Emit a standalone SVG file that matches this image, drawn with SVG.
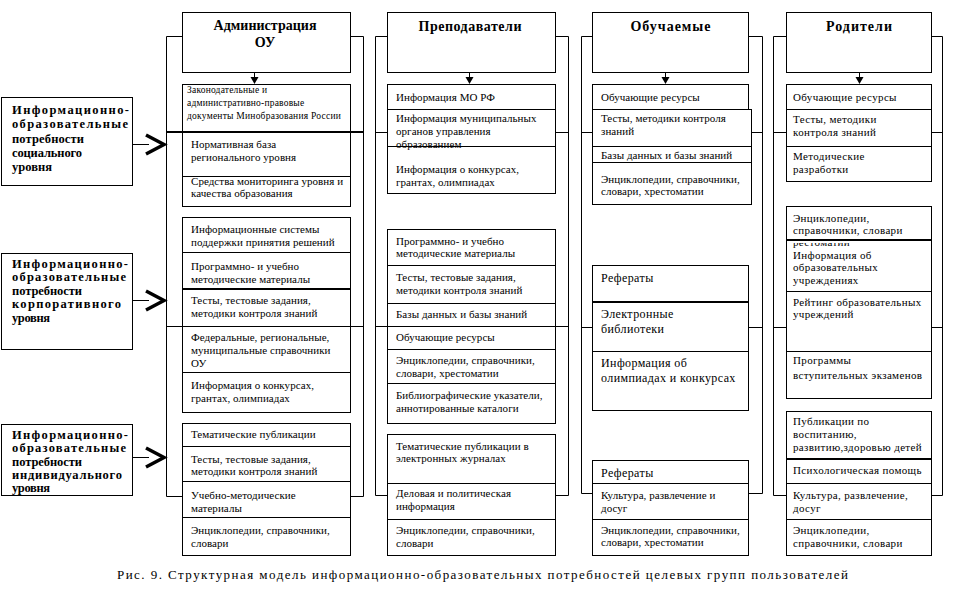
<svg xmlns="http://www.w3.org/2000/svg" width="967" height="589" viewBox="0 0 967 589" font-family="Liberation Serif, Times New Roman, serif">
<style>
.box{fill:#fff;stroke:#000;stroke-width:1}
.ln{stroke:#000;stroke-width:1;fill:none}
.th{stroke:#000;stroke-width:2;fill:none}
.chev{stroke:#000;stroke-width:3.5;fill:none;stroke-linejoin:miter}
.t,.s,.m,.u,.h,.lb,.cap{font-family:"Liberation Serif",serif;fill:#000}
.t{font-size:11px;letter-spacing:0.05px}
.u{font-size:11px;letter-spacing:0.35px}
.s{font-size:9.5px;letter-spacing:0.2px}
.m{font-size:12px;letter-spacing:0.4px}
.h{font-size:14px;font-weight:bold;text-anchor:middle}
.lb{font-size:12.5px;font-weight:bold}
.cap{font-size:13px}
</style>
<defs>
<polygon id="ah" points="-4,0 4,0 0,7"/>
</defs>
<rect width="967" height="589" fill="#fff"/>

<g id="connectors">
  <path class="ln" d="M166.5,36.5H182.5M350.5,36.5H363.5M166.5,36.5V496.5H182.5M363.5,36.5V496.5H350.5M166.5,326.5H182.5M350.5,326.5H363.5"/>
  <path class="th" d="M166.5,132H182.5M350.5,132H363.5"/>
  <path class="ln" d="M375.5,36.5H387.5M555.5,36.5H568.5M375.5,36.5V495.5H387.5M568.5,36.5V495.5H555.5M375.5,132.5H387.5M555.5,132.5H568.5M375.5,326.5H387.5M555.5,326.5H568.5"/>
  <path class="ln" d="M581.5,36.5H592.5M748.5,36.5H762.5M581.5,36.5V493.5H592.5M762.5,36.5V493.5H748.5M581.5,132.5H592.5M751.5,132.5H762.5M581.5,327.5H592.5M748.5,327.5H762.5"/>
  <path class="ln" d="M773.5,36.5H786.5M931.5,36.5H942.5M773.5,36.5V495.5H786.5M942.5,36.5V495.5H931.5M773.5,132.5H786.5M931.5,132.5H942.5M773.5,327.5H786.5M931.5,327.5H942.5"/>
  <path class="ln" d="M254.5,72V78M469.5,72V78M665.5,72V78M859.5,72V78"/>
  <use href="#ah" x="254.5" y="77"/>
  <use href="#ah" x="469.5" y="77"/>
  <use href="#ah" x="665.5" y="77"/>
  <use href="#ah" x="859.5" y="77"/>
  <path class="ln" d="M132,144.5H149M133,300.5H149M133,457.5H149"/>
  <path class="chev" d="M146,135L164,144.5L146,154"/>
  <path class="chev" d="M146,291L164,300.5L146,310"/>
  <path class="chev" d="M146,448L164,457.5L146,467"/>
</g>

<g id="need-social">
  <rect class="box" x="1.5" y="97.5" width="131" height="88"/>
  <text class="lb" x="12" y="114" textLength="117" lengthAdjust="spacing">Информационно-</text>
  <text class="lb" x="12" y="128" textLength="116" lengthAdjust="spacing">образовательные</text>
  <text class="lb" x="12" y="143" textLength="72" lengthAdjust="spacing">потребности</text>
  <text class="lb" x="12" y="157" textLength="70" lengthAdjust="spacing">социального</text>
  <text class="lb" x="12" y="171" textLength="40" lengthAdjust="spacing">уровня</text>
</g>
<g id="need-corporate">
  <rect class="box" x="1.5" y="253.5" width="131" height="96"/>
  <text class="lb" x="12" y="268" textLength="116" lengthAdjust="spacing">Информационно-</text>
  <text class="lb" x="12" y="281" textLength="114" lengthAdjust="spacing">образовательные</text>
  <text class="lb" x="12" y="295" textLength="70" lengthAdjust="spacing">потребности</text>
  <text class="lb" x="12" y="308" textLength="109" lengthAdjust="spacing">корпоративного</text>
  <text class="lb" x="12" y="322" textLength="38" lengthAdjust="spacing">уровня</text>
</g>
<g id="need-individual">
  <rect class="box" x="1.5" y="424.5" width="131" height="71"/>
  <text class="lb" x="12" y="439" textLength="116" lengthAdjust="spacing">Информационно-</text>
  <text class="lb" x="12" y="452" textLength="114" lengthAdjust="spacing">образовательные</text>
  <text class="lb" x="12" y="466" textLength="70" lengthAdjust="spacing">потребности</text>
  <text class="lb" x="12" y="479" textLength="110" lengthAdjust="spacing">индивидуального</text>
  <text class="lb" x="12" y="492" textLength="38" lengthAdjust="spacing">уровня</text>
</g>

<g id="admin-head">
  <rect class="box" x="182.5" y="12.5" width="168" height="60"/>
  <text class="h" x="265" y="30" textLength="103" lengthAdjust="spacing">Администрация</text>
  <text class="h" x="265" y="47">ОУ</text>
</g>
<g id="admin-g1">
  <rect class="box" x="182.5" y="84.5" width="168" height="122"/>
  <path class="th" d="M182.5,132H350.5"/>
  <path class="ln" d="M182.5,176.5H350.5"/>
  <text class="s" x="187" y="93">Законодательные и</text>
  <text class="s" x="187" y="106">административно-правовые</text>
  <text class="s" x="187" y="119" textLength="154" lengthAdjust="spacing">документы Минобразования России</text>
  <text class="t" x="191" y="148">Нормативная база</text>
  <text class="t" x="191" y="161">регионального уровня</text>
  <text class="t" x="191" y="185">Средства мониторинга уровня и</text>
  <text class="t" x="191" y="197">качества образования</text>
</g>
<g id="admin-g2">
  <rect class="box" x="182.5" y="217.5" width="168" height="195"/>
  <path class="ln" d="M182.5,252.5H350.5M166.5,326.5H363.5M182.5,372.5H350.5"/>
  <path class="th" d="M182.5,289H350.5"/>
  <text class="t" x="191" y="233">Информационные системы</text>
  <text class="t" x="191" y="246">поддержки принятия решений</text>
  <text class="t" x="191" y="270">Программно- и учебно</text>
  <text class="t" x="191" y="283">методические материалы</text>
  <text class="t" x="191" y="304">Тесты, тестовые задания,</text>
  <text class="t" x="191" y="317">методики контроля знаний</text>
  <text class="t" x="191" y="341">Федеральные, региональные,</text>
  <text class="t" x="191" y="354">муниципальные справочники</text>
  <text class="t" x="191" y="367">ОУ</text>
  <text class="t" x="191" y="389">Информация о конкурсах,</text>
  <text class="t" x="191" y="402">грантах, олимпиадах</text>
</g>
<g id="admin-g3">
  <rect class="box" x="182.5" y="423.5" width="168" height="132"/>
  <path class="ln" d="M182.5,446.5H350.5M182.5,481.5H350.5M182.5,517.5H350.5"/>
  <text class="t" x="191" y="438">Тематические публикации</text>
  <text class="t" x="191" y="463">Тесты, тестовые задания,</text>
  <text class="t" x="191" y="475">методики контроля знаний</text>
  <text class="t" x="191" y="499">Учебно-методические</text>
  <text class="t" x="191" y="512">материалы</text>
  <text class="t" x="191" y="534">Энциклопедии, справочники,</text>
  <text class="t" x="191" y="547">словари</text>
</g>

<g id="teachers-head">
  <rect class="box" x="387.5" y="12.5" width="168" height="60"/>
  <text class="h" x="470" y="31" textLength="103" lengthAdjust="spacing">Преподаватели</text>
</g>
<g id="teachers-g1">
  <rect class="box" x="387.5" y="84.5" width="168" height="109"/>
  <path class="ln" d="M387.5,109.5H555.5M387.5,146.5H555.5"/>
  <text class="t" x="396" y="101">Информация МО РФ</text>
  <text class="t" x="396" y="122">Информация муниципальных</text>
  <text class="t" x="396" y="135">органов управления</text>
  <text class="t" x="396" y="148">образованием</text>
  <text class="t" x="396" y="173">Информация о конкурсах,</text>
  <text class="t" x="396" y="186">грантах, олимпиадах</text>
</g>
<g id="teachers-g2">
  <rect class="box" x="387.5" y="229.5" width="168" height="194"/>
  <path class="ln" d="M387.5,265.5H555.5M387.5,303.5H555.5M387.5,326.5H555.5M387.5,349.5H555.5M387.5,383.5H555.5"/>
  <text class="t" x="396" y="245">Программно- и учебно</text>
  <text class="t" x="396" y="257">методические материалы</text>
  <text class="t" x="396" y="281">Тесты, тестовые задания,</text>
  <text class="t" x="396" y="294">методики контроля знаний</text>
  <text class="t" x="396" y="318">Базы данных и базы знаний</text>
  <text class="t" x="396" y="341">Обучающие ресурсы</text>
  <text class="t" x="396" y="364">Энциклопедии, справочники,</text>
  <text class="t" x="396" y="377">словари, хрестоматии</text>
  <text class="t" x="396" y="399">Библиографические указатели,</text>
  <text class="t" x="396" y="412">аннотированные каталоги</text>
</g>
<g id="teachers-g3">
  <rect class="box" x="387.5" y="434.5" width="168" height="121"/>
  <path class="ln" d="M387.5,483.5H555.5M387.5,519.5H555.5"/>
  <text class="t" x="396" y="450">Тематические публикации в</text>
  <text class="t" x="396" y="462">электронных журналах</text>
  <text class="t" x="396" y="497">Деловая и политическая</text>
  <text class="t" x="396" y="510">информация</text>
  <text class="t" x="396" y="534">Энциклопедии, справочники,</text>
  <text class="t" x="396" y="547">словари</text>
</g>

<g id="students-head">
  <rect class="box" x="592.5" y="12.5" width="156" height="60"/>
  <text class="h" x="670.5" y="31" textLength="80" lengthAdjust="spacing">Обучаемые</text>
</g>
<g id="students-g1">
  <rect class="box" x="592.5" y="84.5" width="156" height="25"/>
  <rect class="box" x="592.5" y="109.5" width="159" height="95"/>
  <path class="ln" d="M592.5,146.5H751.5M592.5,162.5H751.5"/>
  <text class="t" x="601" y="101">Обучающие ресурсы</text>
  <text class="t" x="601" y="122">Тесты, методики контроля</text>
  <text class="t" x="601" y="135">знаний</text>
  <text class="t" x="601" y="159">Базы данных и базы знаний</text>
  <text class="t" x="601" y="183">Энциклопедии, справочники,</text>
  <text class="t" x="601" y="195">словари, хрестоматии</text>
</g>
<g id="students-g2">
  <rect class="box" x="592.5" y="265.5" width="156" height="145"/>
  <path class="th" d="M592.5,302H748.5"/>
  <path class="ln" d="M592.5,351.5H748.5"/>
  <text class="m" x="601" y="282">Рефераты</text>
  <text class="m" x="601" y="318">Электронные</text>
  <text class="m" x="601" y="333">библиотеки</text>
  <text class="m" x="601" y="367">Информация об</text>
  <text class="m" x="601" y="382">олимпиадах и конкурсах</text>
</g>
<g id="students-g3">
  <rect class="box" x="592.5" y="460.5" width="156" height="95"/>
  <path class="ln" d="M592.5,483.5H748.5M592.5,519.5H748.5"/>
  <text class="m" x="601" y="477">Рефераты</text>
  <text class="t" x="601" y="499">Культура, развлечение и</text>
  <text class="t" x="601" y="512">досуг</text>
  <text class="t" x="601" y="534">Энциклопедии, справочники,</text>
  <text class="t" x="601" y="546">словари, хрестоматии</text>
</g>

<g id="parents-head">
  <rect class="box" x="786.5" y="12.5" width="145" height="60"/>
  <text class="h" x="859" y="31" textLength="66" lengthAdjust="spacing">Родители</text>
</g>
<g id="parents-g1">
  <rect class="box" x="786.5" y="84.5" width="145" height="97"/>
  <path class="ln" d="M786.5,109.5H931.5M786.5,146.5H931.5"/>
  <text class="u" x="793" y="101">Обучающие ресурсы</text>
  <text class="u" x="793" y="123">Тесты, методики</text>
  <text class="u" x="793" y="136">контроля знаний</text>
  <text class="u" x="793" y="160">Методические</text>
  <text class="u" x="793" y="173">разработки</text>
</g>
<g id="parents-g2">
  <rect class="box" x="786.5" y="206.5" width="145" height="192"/>
  <text class="u" x="793" y="246">рестоматии</text>
  <path class="th" d="M786.5,240H931.5"/>
  <rect x="787" y="241" width="144" height="2" fill="#fff"/>
  <path class="ln" d="M786.5,291.5H931.5M786.5,351.5H931.5"/>
  <text class="u" x="793" y="222">Энциклопедии,</text>
  <text class="u" x="793" y="234">справочники, словари</text>
  <text class="u" x="793" y="259">Информация об</text>
  <text class="u" x="793" y="271">образовательных</text>
  <text class="u" x="793" y="284">учреждениях</text>
  <text class="u" x="793" y="306">Рейтинг образовательных</text>
  <text class="u" x="793" y="318">учреждений</text>
  <text class="u" x="793" y="364">Программы</text>
  <text class="u" x="793" y="379">вступительных экзаменов</text>
</g>
<g id="parents-g3">
  <rect class="box" x="786.5" y="411.5" width="145" height="144"/>
  <path class="th" d="M786.5,459H931.5"/>
  <path class="ln" d="M786.5,483.5H931.5M786.5,519.5H931.5"/>
  <text class="u" x="793" y="425">Публикации по</text>
  <text class="u" x="793" y="438">воспитанию,</text>
  <text class="u" x="793" y="451">развитию,здоровью детей</text>
  <text class="u" x="793" y="474">Психологическая помощь</text>
  <text class="u" x="793" y="499">Культура, развлечение,</text>
  <text class="u" x="793" y="512">досуг</text>
  <text class="u" x="793" y="534">Энциклопедии,</text>
  <text class="u" x="793" y="547">справочники, словари</text>
</g>

<text class="cap" x="117" y="579" textLength="731" lengthAdjust="spacing">Рис. 9. Структурная модель информационно-образовательных потребностей целевых групп пользователей</text>
</svg>
